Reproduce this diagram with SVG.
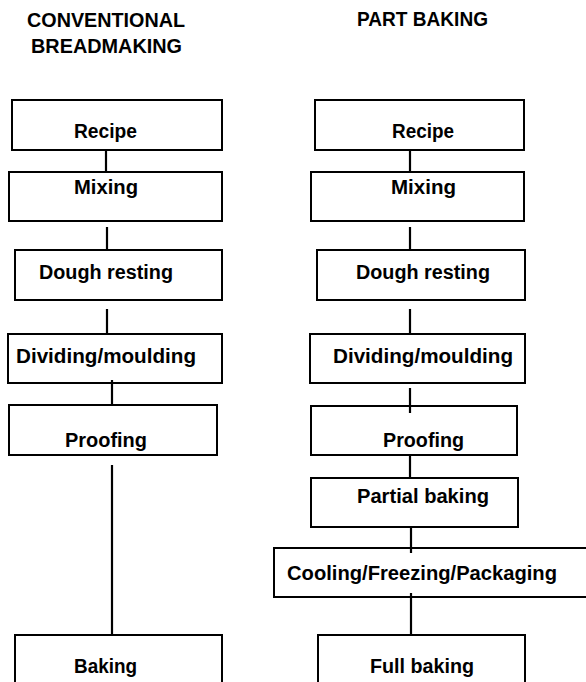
<svg xmlns="http://www.w3.org/2000/svg" width="586" height="682" viewBox="0 0 586 682">
  <style>
    .box { fill: #ffffff; stroke: #000000; stroke-width: 2; }
    .lbl { font-family: "Liberation Sans", Arial, sans-serif; font-weight: bold; font-size: 20px; fill: #000000; }
    .edge { stroke: #000000; stroke-width: 2.2; fill: none; }
  </style>
  <rect width="586" height="682" fill="#ffffff"/>

  <!-- column headings -->
  <g id="titles">
    <text class="lbl" x="27" y="27" textLength="158" lengthAdjust="spacingAndGlyphs">CONVENTIONAL</text>
    <text class="lbl" x="31" y="53" textLength="151" lengthAdjust="spacingAndGlyphs">BREADMAKING</text>
    <text class="lbl" x="357" y="26" textLength="131" lengthAdjust="spacingAndGlyphs">PART BAKING</text>
  </g>

  <!-- conventional process -->
  <g id="c-recipe">
    <rect class="box" x="12" y="100" width="210" height="50"/>
    <text class="lbl" x="74" y="138" textLength="63" lengthAdjust="spacingAndGlyphs">Recipe</text>
  </g>
  <g id="c-mixing">
    <rect class="box" x="9" y="172" width="213" height="49"/>
    <text class="lbl" x="74" y="194" textLength="64" lengthAdjust="spacingAndGlyphs">Mixing</text>
  </g>
  <g id="c-dough">
    <rect class="box" x="15" y="250" width="207" height="50"/>
    <text class="lbl" x="39" y="279" textLength="134" lengthAdjust="spacingAndGlyphs">Dough resting</text>
  </g>
  <g id="c-dividing">
    <rect class="box" x="8" y="334" width="214" height="49"/>
    <text class="lbl" x="16" y="363" textLength="180" lengthAdjust="spacingAndGlyphs">Dividing/moulding</text>
  </g>
  <g id="c-proofing">
    <rect class="box" x="9" y="405" width="208" height="50"/>
    <text class="lbl" x="65" y="447" textLength="82" lengthAdjust="spacingAndGlyphs">Proofing</text>
  </g>
  <g id="c-baking">
    <rect class="box" x="15" y="635" width="207" height="70"/>
    <text class="lbl" x="74" y="673" textLength="63" lengthAdjust="spacingAndGlyphs">Baking</text>
  </g>

  <!-- part-baking process -->
  <g id="p-recipe">
    <rect class="box" x="315" y="100" width="209" height="50"/>
    <text class="lbl" x="392" y="138" textLength="62" lengthAdjust="spacingAndGlyphs">Recipe</text>
  </g>
  <g id="p-mixing">
    <rect class="box" x="311" y="172" width="213" height="49"/>
    <text class="lbl" x="391" y="194" textLength="65" lengthAdjust="spacingAndGlyphs">Mixing</text>
  </g>
  <g id="p-dough">
    <rect class="box" x="317" y="250" width="208" height="50"/>
    <text class="lbl" x="356" y="279" textLength="134" lengthAdjust="spacingAndGlyphs">Dough resting</text>
  </g>
  <g id="p-dividing">
    <rect class="box" x="310" y="334" width="215" height="49"/>
    <text class="lbl" x="333" y="363" textLength="180" lengthAdjust="spacingAndGlyphs">Dividing/moulding</text>
  </g>
  <g id="p-proofing">
    <rect class="box" x="311" y="406" width="206" height="49"/>
    <text class="lbl" x="383" y="447" textLength="81" lengthAdjust="spacingAndGlyphs">Proofing</text>
  </g>
  <g id="p-partial">
    <rect class="box" x="311" y="478" width="207" height="49"/>
    <text class="lbl" x="357" y="503" textLength="132" lengthAdjust="spacingAndGlyphs">Partial baking</text>
  </g>
  <g id="p-cooling">
    <rect class="box" x="274" y="548" width="330" height="49"/>
    <text class="lbl" x="287" y="580" textLength="270" lengthAdjust="spacingAndGlyphs">Cooling/Freezing/Packaging</text>
  </g>
  <g id="p-fullbaking">
    <rect class="box" x="318" y="635" width="207" height="70"/>
    <text class="lbl" x="370" y="673" textLength="104" lengthAdjust="spacingAndGlyphs">Full baking</text>
  </g>

  <!-- connecting lines between steps -->
  <g id="connectors">
    <line class="edge" x1="106" y1="150" x2="106" y2="172"/>
    <line class="edge" x1="107" y1="227" x2="107" y2="250"/>
    <line class="edge" x1="107" y1="309" x2="107" y2="333"/>
    <line class="edge" x1="112" y1="380" x2="112" y2="405"/>
    <line class="edge" x1="112" y1="465" x2="112" y2="634"/>

    <line class="edge" x1="410" y1="150" x2="410" y2="172"/>
    <line class="edge" x1="410" y1="227" x2="410" y2="250"/>
    <line class="edge" x1="410" y1="309" x2="410" y2="333"/>
    <line class="edge" x1="410" y1="388" x2="410" y2="413"/>
    <line class="edge" x1="410" y1="455" x2="410" y2="478"/>
    <line class="edge" x1="411" y1="527" x2="411" y2="553"/>
    <line class="edge" x1="411" y1="593" x2="411" y2="635"/>
  </g>
</svg>
